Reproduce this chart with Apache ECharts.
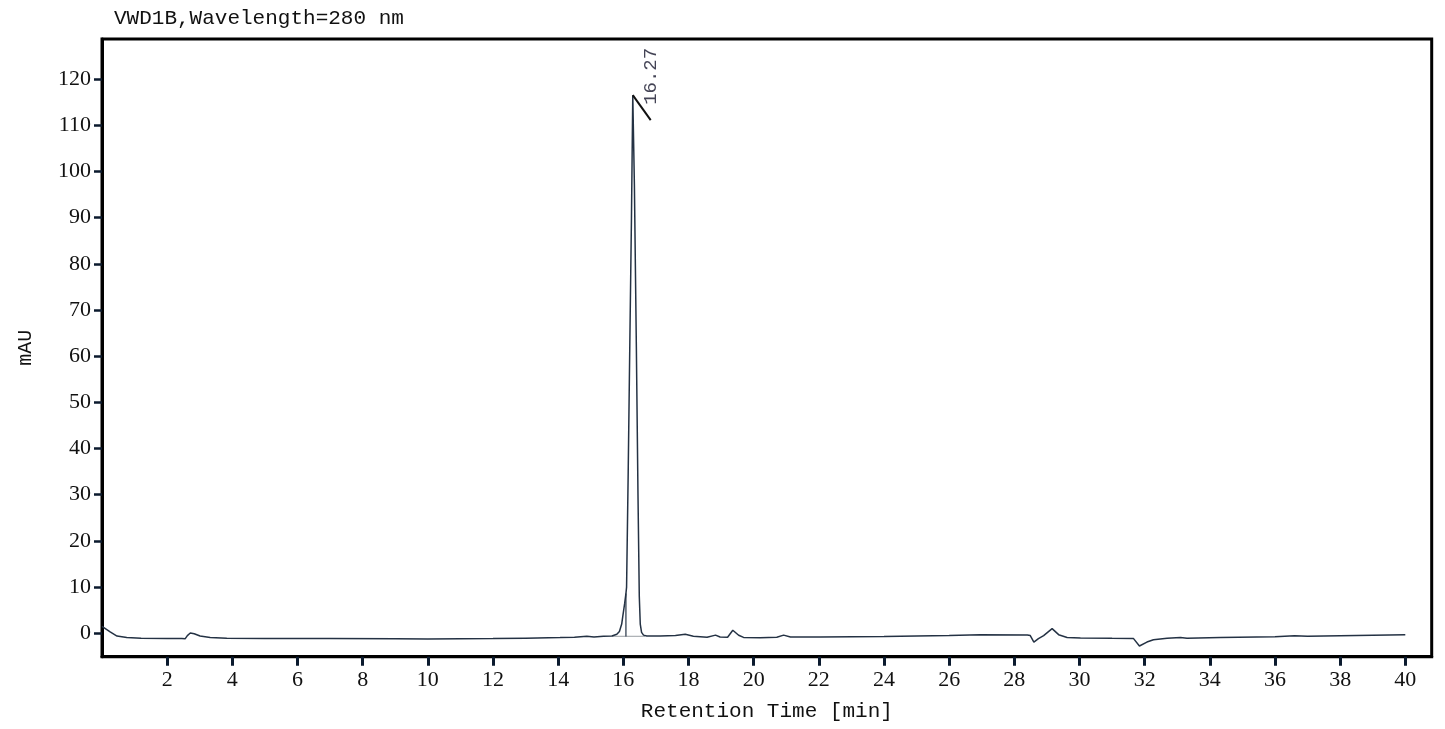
<!DOCTYPE html>
<html>
<head>
<meta charset="utf-8">
<script src="https://cdn.jsdelivr.net/npm/echarts@6/dist/echarts.min.js"></script>
<style>
html,body{margin:0;padding:0;background:#fff;}
#chart{width:1445px;height:729px;}
</style>
</head>
<body>
<div id="chart"></div>
<script>
// ---- data ----
const chartTitle = 'VWD1B,Wavelength=280 nm';
const xAxisName = 'Retention Time [min]';
const yAxisName = 'mAU';
const xTickValues = [2,4,6,8,10,12,14,16,18,20,22,24,26,28,30,32,34,36,38,40];
const yTickValues = [0,10,20,30,40,50,60,70,80,90,100,110,120];

const retentionTime = [
  0.0, 0.05, 0.25, 0.46, 0.76, 1.2, 2.0, 2.45, 2.55, 2.62, 2.71, 2.83, 3.01, 3.32, 3.83,
  5, 7, 9, 10, 11, 12, 13, 14.06, 14.5, 14.88, 15.1, 15.39, 15.65, 15.8, 15.88, 15.95,
  15.98, 16.04, 16.08, 16.1, 16.15, 16.2, 16.25, 16.29, 16.34, 16.4, 16.45, 16.49, 16.52,
  16.56, 16.62, 16.72, 17.13, 17.6, 17.9, 18.15, 18.57, 18.83, 18.97, 19.2, 19.36, 19.54,
  19.69, 20.2, 20.71, 20.92, 21.13, 22.04, 24, 26, 26.95, 28.4, 28.49, 28.6, 28.74, 28.9,
  29.16, 29.36, 29.62, 30.03, 31, 31.66, 31.84, 32.07, 32.27, 32.69, 33.1, 33.3, 34.32,
  36, 36.6, 37, 38, 40
];
const absorbance = [
  1.5, 1.2, 0.3, -0.6, -0.9, -1.1, -1.15, -1.15, -1.2, -0.5, 0.05, -0.1, -0.6, -0.9, -1.1,
  -1.15, -1.15, -1.2, -1.25, -1.2, -1.15, -1.05, -0.93, -0.85, -0.65, -0.8, -0.65, -0.6, -0.2, 0.4, 2.0,
  3.5, 6.4, 8.6, 10, 35, 63, 90, 116.5, 97, 62, 30, 8, 2,
  0.2, -0.4, -0.6, -0.6, -0.5, -0.2, -0.65, -0.85, -0.4, -0.8, -0.85, 0.65, -0.43,
  -0.9, -0.95, -0.85, -0.4, -0.8, -0.8, -0.7, -0.5, -0.3, -0.35, -0.5, -1.9, -1.15, -0.5,
  1.0, -0.3, -0.9, -1.0, -1.1, -1.15, -2.75, -1.9, -1.4, -1.1, -0.9, -1.05, -0.9,
  -0.75, -0.55, -0.65, -0.55, -0.3
];

// peak integration marks
const peakName = '16.27';
const dropLineTime = [16.08, 16.08];
const dropLineValue = [-0.7, 8.6];
const baselineTime = [15.65, 16.67];
const baselineValue = [-0.65, -0.65];
const peakTickTime = [16.29, 16.84];
const peakTickValue = [116.5, 111.1];
const peakLabelAt = [16.85, 114.4];

const zip = (a, b) => a.map((v, i) => [v, b[i]]);
const ink = '#111111';
const traceColor = '#243244';

const chart = echarts.init(document.getElementById('chart'), null, {renderer: 'canvas'});
chart.setOption({
  animation: false,
  backgroundColor: '#ffffff',
  title: {
    text: chartTitle,
    left: 109, top: 3,
    textStyle: {fontFamily: 'Liberation Mono', fontSize: 21, fontWeight: 'normal', color: ink}
  },
  grid: {
    left: 102, right: 13.3, top: 39, bottom: 72.3,
    show: true, borderColor: '#000', borderWidth: 3, backgroundColor: 'transparent'
  },
  xAxis: {
    type: 'value', min: 0, max: 40.81,
    name: xAxisName, nameLocation: 'middle', nameGap: 44,
    nameTextStyle: {fontFamily: 'Liberation Mono', fontSize: 21, color: ink},
    axisLine: {show: true, onZero: false, lineStyle: {color: '#000', width: 3}},
    axisTick: {show: true, customValues: xTickValues, length: 9, lineStyle: {color: '#0b1a2e', width: 3}},
    axisLabel: {show: true, customValues: xTickValues, margin: 13, fontFamily: 'Liberation Serif', fontSize: 22, color: ink},
    splitLine: {show: false}
  },
  yAxis: {
    type: 'value', min: -5.07, max: 128.66,
    name: yAxisName, nameLocation: 'middle', nameGap: 66, nameRotate: 90,
    nameTextStyle: {fontFamily: 'Liberation Mono', fontSize: 20, color: ink},
    axisLine: {show: true, onZero: false, lineStyle: {color: '#000', width: 3}},
    axisTick: {show: true, customValues: yTickValues, length: 8, lineStyle: {color: '#0b1a2e', width: 2.5}},
    axisLabel: {show: true, customValues: yTickValues, margin: 11, fontFamily: 'Liberation Serif', fontSize: 22, color: ink},
    splitLine: {show: false}
  },
  series: [
    {
      type: 'line', name: 'baseline', data: zip(baselineTime, baselineValue),
      showSymbol: false, silent: true, z: 1,
      lineStyle: {color: '#9a9ea4', width: 1}
    },
    {
      type: 'line', name: 'trace', data: zip(retentionTime, absorbance),
      showSymbol: false, smooth: false, z: 3,
      lineStyle: {color: traceColor, width: 1.5}
    },
    {
      type: 'line', name: 'drop', data: zip(dropLineTime, dropLineValue),
      showSymbol: false, silent: true, z: 2,
      lineStyle: {color: traceColor, width: 1.2}
    },
    {
      type: 'line', name: 'peakTick', data: zip(peakTickTime, peakTickValue),
      showSymbol: false, silent: true, z: 3,
      lineStyle: {color: '#111', width: 2}
    },
    {
      type: 'scatter', name: 'peakLabel', data: [peakLabelAt],
      symbolSize: 0, silent: true, z: 4,
      label: {
        show: true, formatter: peakName, position: 'inside', rotate: 90,
        align: 'left', verticalAlign: 'middle',
        fontFamily: 'Liberation Mono', fontSize: 19, color: '#14142a'
      }
    }
  ]
});
</script>
</body>
</html>
